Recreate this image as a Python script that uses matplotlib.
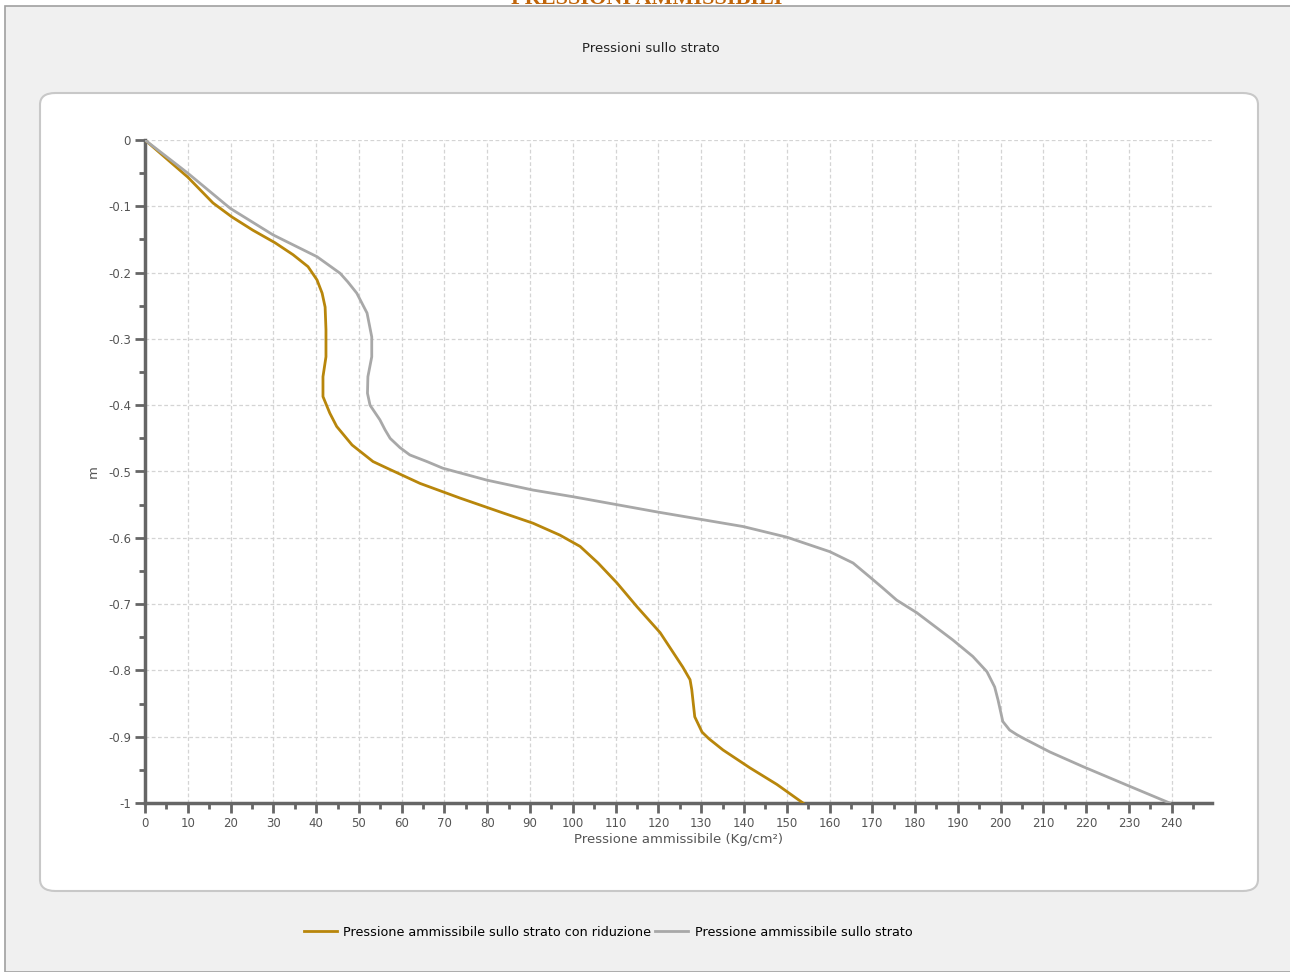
import numpy as np
import matplotlib
matplotlib.use("Agg")
import matplotlib.pyplot as plt
from matplotlib.patches import FancyBboxPatch, Rectangle
from matplotlib.ticker import MultipleLocator

# curve with reduction (gold)
rid_x = [0, 10.0, 15.9, 20.3, 25.2, 30.4, 34.6, 38.1, 40.2, 41.4, 42.1, 42.3, 42.3, 41.6, 41.6,
         43.2, 44.8, 48.4, 53.3, 56.6, 64.3, 73.6, 83.0, 90.7, 97.0, 101.7, 105.9, 110.3, 115.0,
         120.4, 125.7, 127.4, 127.8, 128.5, 130.2, 131.8, 135.1, 141.4, 147.7, 153.8]
rid_y = [0, -0.056, -0.095, -0.116, -0.136, -0.155, -0.173, -0.191, -0.211, -0.231, -0.252, -0.286,
         -0.327, -0.357, -0.387, -0.412, -0.432, -0.460, -0.485, -0.495, -0.518, -0.540, -0.561,
         -0.578, -0.596, -0.613, -0.638, -0.668, -0.704, -0.743, -0.795, -0.814, -0.829, -0.870,
         -0.893, -0.903, -0.920, -0.947, -0.972, -1.0]

# curve without reduction (gray)
str_x = [0, 10.0, 19.9, 29.9, 40.2, 45.6, 47.4, 49.5, 51.9, 53.0, 53.0, 52.1, 52.0, 52.6, 54.9,
         56.1, 57.3, 59.6, 61.9, 65.9, 69.6, 79.9, 90.7, 100.0, 119.7, 139.8, 150.0, 160.1, 165.5,
         169.4, 172.5, 175.7, 180.4, 188.8, 193.5, 196.8, 198.6, 199.4, 200.5, 202.1, 203.8, 205.2,
         211.5, 219.2, 229.5, 239.5]
str_y = [0, -0.050, -0.103, -0.143, -0.176, -0.201, -0.214, -0.231, -0.261, -0.297, -0.327, -0.357,
         -0.382, -0.400, -0.422, -0.437, -0.450, -0.464, -0.475, -0.485, -0.495, -0.513, -0.528,
         -0.538, -0.561, -0.583, -0.599, -0.621, -0.638, -0.659, -0.676, -0.694, -0.713, -0.754,
         -0.779, -0.802, -0.825, -0.845, -0.877, -0.890, -0.897, -0.902, -0.923, -0.945, -0.973, -1.0]

labels = ["Pressione ammissibile sullo strato con riduzione", "Pressione ammissibile sullo strato"]
colors = ["#b8860b", "#a8a8a8"]

W, H = 1290, 972
fig = plt.figure(figsize=(W / 100, H / 100), dpi=100, facecolor="white")

# cut-off heading at the very top (only its lower edge shows, as in the source)
fig.text(647 / W, 1 + 1 / H, "PRESSIONI AMMISSIBILI", ha="center", va="center",
         fontsize=16, fontweight="bold", family="Liberation Serif", color="#c0650a", zorder=-4)
# gray page area with border (covers the rest of the heading)
fig.patches.append(Rectangle((5 / W, 0), 1, 1 - 6 / H, transform=fig.transFigure,
                             facecolor="#f0f0f0", edgecolor="#a0a0a0", lw=1.2, zorder=-3))
# white rounded panel
fig.patches.append(FancyBboxPatch((40 / W, 1 - 891 / H), (1258 - 40) / W, (891 - 93) / H,
                                  boxstyle="round,pad=0,rounding_size=0.012",
                                  transform=fig.transFigure, facecolor="white",
                                  edgecolor="#c8c8c8", lw=1.5, zorder=-2))

fig.text(651 / W, 1 - 48 / H, "Pressioni sullo strato", ha="center", va="center",
         fontsize=9.5, color="#222222")

ax = fig.add_axes([145 / W, 1 - 803 / H, (1212 - 145) / W, (803 - 140) / H])
ax.set_facecolor("none")

ax.plot(rid_x, rid_y, color=colors[0], lw=2, label=labels[0], zorder=3, solid_joinstyle="round")
ax.plot(str_x, str_y, color=colors[1], lw=2, label=labels[1], zorder=3, solid_joinstyle="round")

ax.set_xlim(0, 249.4)
ax.set_ylim(-1, 0)
ax.xaxis.set_minor_locator(MultipleLocator(5))
ax.yaxis.set_minor_locator(MultipleLocator(0.05))
ax.set_xticks(np.arange(0, 241, 10))
ax.set_yticks(np.round(np.arange(-1, 0.01, 0.1), 1))
ax.set_yticklabels(["-1"] + [f"{v:.1f}" for v in np.arange(-0.9, -0.05, 0.1)] + ["0"])

for s in ["top", "right"]:
    ax.spines[s].set_visible(False)
for s in ["left", "bottom"]:
    ax.spines[s].set_color("#666666")
    ax.spines[s].set_linewidth(2.5)

ax.tick_params(which="major", length=7, width=2, color="#666666", labelsize=8.5,
               labelcolor="#555555", pad=3)
ax.tick_params(which="minor", length=4, width=2, color="#666666")
ax.grid(True, which="major", ls=(0, (3, 2)), color="#d4d4d4", lw=0.9)
ax.set_axisbelow(True)

ax.set_xlabel("Pressione ammissibile (Kg/cm²)", fontsize=9.5, color="#555555", labelpad=2)
ax.set_ylabel("m", fontsize=9.5, color="#555555", labelpad=6)

fig.legend(loc="center", bbox_to_anchor=(608 / W, 1 - 932 / H), ncol=2, frameon=False,
           fontsize=9.2, handlelength=2.6, handletextpad=0.5, columnspacing=0.3)

fig.savefig("out.png", dpi=100, facecolor=fig.get_facecolor())
